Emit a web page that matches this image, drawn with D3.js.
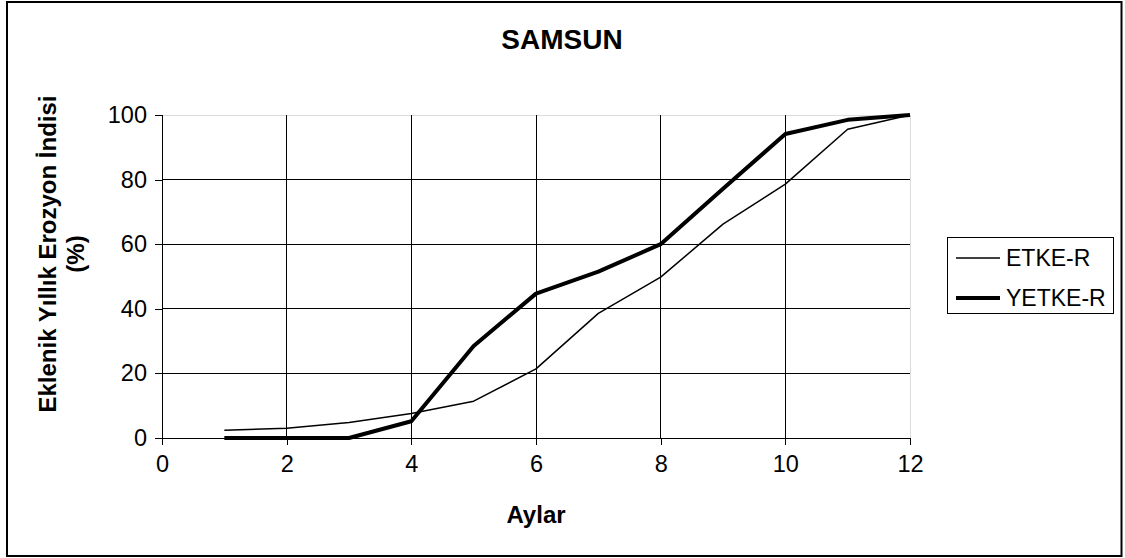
<!DOCTYPE html>
<html>
<head>
<meta charset="utf-8">
<script src="https://cdn.jsdelivr.net/npm/d3@7/dist/d3.min.js"></script>
<style>
  html, body { margin: 0; padding: 0; background: #fff; }
  svg { display: block; font-family: Arial, "Liberation Sans", sans-serif; }
</style>
</head>
<body>
<svg id="chart" width="1125" height="558"></svg>
<script>
// Monthly cumulative erosion index, Samsun
const months = [1, 2, 3, 4, 5, 6, 7, 8, 9, 10, 11, 12];
const etke = [2.4, 3.0, 4.8, 7.6, 11.4, 21.4, 38.6, 49.8, 66.2, 78.6, 95.6, 100];
const yetke = [0, 0, 0, 5.2, 28.5, 44.7, 51.5, 60, 77.2, 94.1, 98.5, 100];
const xTicks = [0, 2, 4, 6, 8, 10, 12];
const yTicks = [0, 20, 40, 60, 80, 100];
const seriesNames = ["ETKE-R", "YETKE-R"];
const seriesWidths = [1.5, 4];

const svg = d3.select("#chart");

// outer frame
svg.append("rect")
  .attr("x", 7).attr("y", 2).attr("width", 1114.5).attr("height", 554)
  .attr("fill", "#fff").attr("stroke", "#000").attr("stroke-width", 2);

const x = d3.scaleLinear().domain([0, 12]).range([162, 910]);
const y = d3.scaleLinear().domain([0, 100]).range([438, 115]);

// grid
const grid = svg.append("g").attr("shape-rendering", "crispEdges");
grid.selectAll("line.h").data(yTicks).join("line")
  .attr("x1", x(0)).attr("x2", x(12))
  .attr("y1", d => y(d)).attr("y2", d => y(d))
  .attr("stroke", d => d === 100 ? "#dcdcdc" : "#000").attr("stroke-width", 1);
grid.selectAll("line.v").data(xTicks.filter(d => d > 0)).join("line")
  .attr("y1", y(0)).attr("y2", y(100))
  .attr("x1", d => x(d)).attr("x2", d => x(d))
  .attr("stroke", d => d === 12 ? "#dcdcdc" : "#000").attr("stroke-width", 1);

// axes
const xAxis = d3.axisBottom(x).tickValues(xTicks).tickSize(7).tickPadding(10);
const yAxis = d3.axisLeft(y).tickValues(yTicks).tickSize(7).tickPadding(8);

const gx = svg.append("g").attr("transform", `translate(0,${y(0)})`).call(xAxis);
const gy = svg.append("g").attr("transform", `translate(${x(0)},0)`).call(yAxis);
[gx, gy].forEach(g => {
  g.select(".domain").attr("stroke", "#000").attr("shape-rendering", "crispEdges");
  g.selectAll(".tick line").attr("stroke", "#000").attr("shape-rendering", "crispEdges");
  g.selectAll(".tick text").attr("fill", "#000")
    .style("font-size", "23.5px").style("font-family", "Arial, 'Liberation Sans', sans-serif");
});
gx.select(".domain").attr("d", `M${x(0)},0.5V7M${x(0)},0H${x(12)}`);
gy.select(".domain").attr("d", `M-7,${y(100)}H0V${y(0)}`);

// series
const line = d3.line().x((d, i) => x(months[i])).y(d => y(d));
[etke, yetke].forEach((vals, k) => {
  svg.append("path").datum(vals)
    .attr("d", line).attr("fill", "none").attr("stroke", "#000")
    .attr("stroke-width", seriesWidths[k]).attr("stroke-linejoin", "round");
});

// title
svg.append("text").attr("x", 562).attr("y", 48.5).attr("text-anchor", "middle")
  .style("font-size", "28px").style("font-weight", "bold").text("SAMSUN");

// axis titles
svg.append("text").attr("x", 536).attr("y", 523).attr("text-anchor", "middle")
  .style("font-size", "24px").style("font-weight", "bold").text("Aylar");

const yt = svg.append("text").attr("transform", "translate(0,254) rotate(-90)")
  .attr("text-anchor", "middle").style("font-size", "24px").style("font-weight", "bold");
yt.append("tspan").attr("x", 0).attr("y", 56).text("Eklenik Yıllık Erozyon İndisi");
yt.append("tspan").attr("x", 0).attr("y", 84).text("(%)");

// legend
const lg = svg.append("g");
lg.append("rect").attr("x", 947.5).attr("y", 237.5).attr("width", 166).attr("height", 76)
  .attr("fill", "#fff").attr("stroke", "#000").attr("stroke-width", 1);
seriesNames.forEach((name, k) => {
  const cy = 258 + k * 40;
  lg.append("line").attr("x1", 956).attr("x2", 1000).attr("y1", cy).attr("y2", cy)
    .attr("stroke", "#000").attr("stroke-width", seriesWidths[k]);
  lg.append("text").attr("x", 1006).attr("y", cy + 8)
    .style("font-size", "23px").text(name);
});
</script>
</body>
</html>
